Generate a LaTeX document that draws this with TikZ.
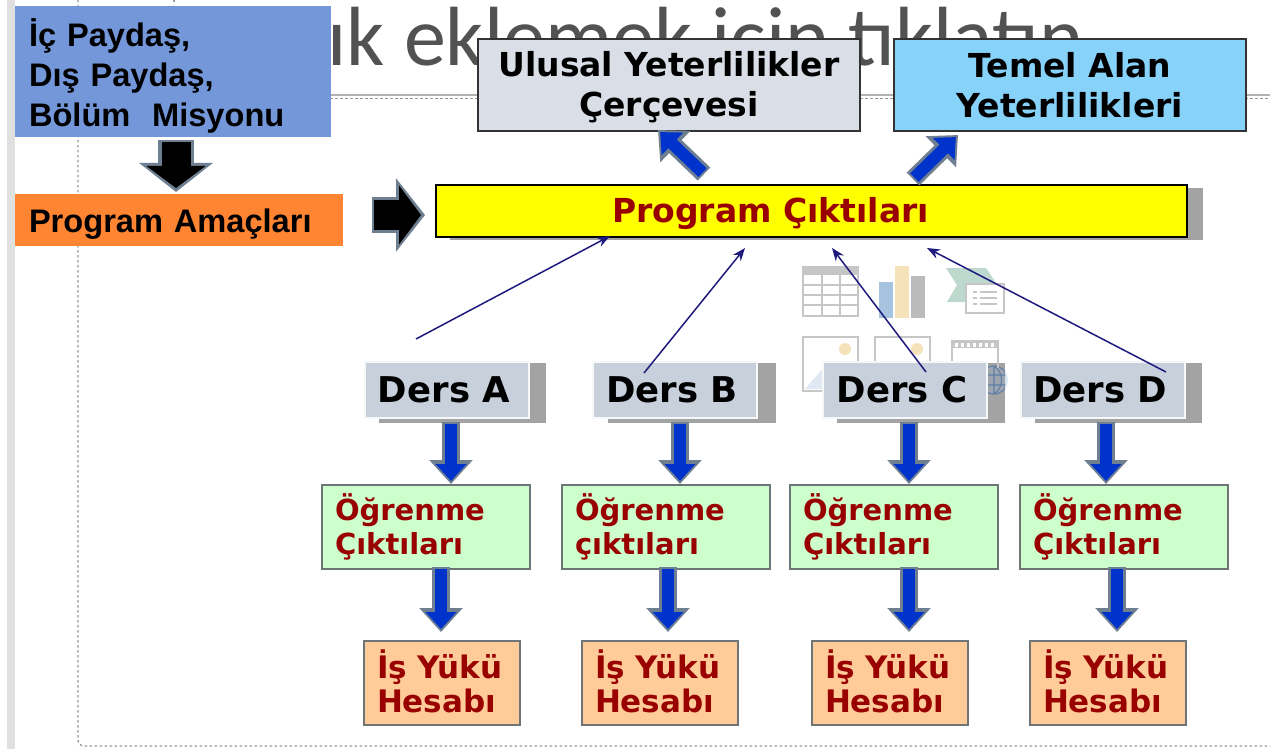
\documentclass[tikz,border=0pt]{standalone}
\usepackage{fontspec}
\setmainfont{DejaVu Sans}
\newfontfamily\arialf{Liberation Sans}
\newfontfamily\titlef{Carlito}
\usetikzlibrary{arrows.meta,calc}
\definecolor{navyln}{HTML}{1F1A7E}
\definecolor{darkredc}{HTML}{990000}
\definecolor{blockrim}{HTML}{6F7F92}
\definecolor{blockblue}{HTML}{0033CC}
\definecolor{iconline}{HTML}{C6C6C6}
\definecolor{shadowc}{HTML}{A3A3A3}
\definecolor{dersfill}{HTML}{C7D0DB}
\definecolor{greenf}{HTML}{CCFFCC}
\definecolor{orangef}{HTML}{FFCC99}
\definecolor{boxrim}{HTML}{6E7577}
\definecolor{icblue}{HTML}{A6C4E0}
\definecolor{ictan}{HTML}{F5E2BA}
\definecolor{icgray}{HTML}{BBBBBB}
\definecolor{icgreen}{HTML}{BDD8CD}
\definecolor{icpale}{HTML}{DFE8F3}
\definecolor{globepale}{HTML}{DCE9F6}
\definecolor{globeshade}{HTML}{9DA5AE}
\definecolor{globeline}{HTML}{5F7FA8}
\definecolor{nqffill}{HTML}{DADFE7}
\definecolor{tayfill}{HTML}{87D2F9}
\definecolor{payfill}{HTML}{7397D9}
\definecolor{amafill}{HTML}{FF8533}
\definecolor{barfill}{HTML}{FFFF00}
\tikzset{
  abox/.style={anchor=north west,inner ysep=0pt,outer sep=0pt},
  thinarrow/.style={draw=navyln,line width=1.5pt,-{Stealth[length=13pt,width=10pt]}},
  rimline/.style={draw=#1,line width=18pt,-{Triangle[length=24pt,width=42pt]}},
  coreline/.style={draw=#1,line width=12pt,shorten >=3pt,shorten <=2pt,-{Triangle[length=17pt,width=30pt]}},
  dashln/.style={draw=gray!80,line width=1.3pt,dash pattern=on 2.5pt off 2.5pt},
  iconb/.style={draw=iconline,line width=1.6pt,fill=white},
  dersbox/.style={abox,fill=dersfill,draw=white!85!dersfill,line width=1.5pt,minimum width=164pt,minimum height=56pt,inner xsep=0pt,font=\fontsize{35.5}{40}\selectfont\bfseries,text=black},
  greenbox/.style={abox,fill=greenf,draw=boxrim,line width=1.6pt,text width=182pt,inner xsep=13pt,minimum height=84pt,align=left,font=\fontsize{29}{34}\selectfont\bfseries,text=darkredc},
  orangebox/.style={abox,fill=orangef,draw=boxrim,line width=1.6pt,text width=130pt,inner xsep=13pt,minimum height=84pt,align=left,font=\fontsize{31}{34}\selectfont\bfseries,text=darkredc},
  topbox/.style={abox,draw=black!80,line width=1.5pt,minimum height=92pt,align=center,inner xsep=0pt,font=\fontsize{33}{40}\selectfont\bfseries,text=black},
  leftbox/.style={abox,inner xsep=14pt,align=left,font=\arialf\fontsize{32.6}{40}\selectfont\bfseries,text=black},
}
\newcommand{\blockarrow}[3]{%
  \draw[rimline=blockrim] (#1) -- (#2);
  \draw[coreline=#3] (#1) -- (#2);
}
\newcommand{\dersname}[1]{#1\hspace{6pt}\mbox{}}
\newcommand{\topup}[1]{\rule{0pt}{#1pt}}
\newcommand{\isyuku}{İş Yükü\\Hesabı\rule[-4pt]{0pt}{1pt}}
\begin{document}
\begin{tikzpicture}[x=1pt,y=-1pt]
\useasboundingbox (0,0) rectangle (1270,749);
\fill[white] (0,0) rectangle (1270,749);
% slide furniture
\fill[black!12] (7,0) rectangle (15,749);
\draw[dashln] (78,0) -- (78,740) arc[start angle=180,end angle=90,radius=6] -- (1270,746);
\draw[dashln] (174,0) -- (174,5);
\draw[black!30,line width=1.5pt] (320,95) -- (1270,95);
\draw[dashln,line width=1pt] (320,99) -- (1270,99);
\node[anchor=base west,inner sep=0pt,text=black!68,font=\titlef\fontsize{84}{84}\selectfont] (title) at (327.5,66) {ık eklemek için tıklatın};
% content placeholder icons
\draw[iconb] (803,267) rectangle (858,316);
\fill[iconline] (803,267) rectangle (858,275);
\draw[iconline,line width=1.2pt] (822,275) -- (822,316) (840,275) -- (840,316)
  (803,285) -- (858,285) (803,295) -- (858,295) (803,305) -- (858,305);
\fill[icblue] (879,282) rectangle (893,318);
\fill[ictan] (895,266) rectangle (909,318);
\fill[icgray] (911,276) rectangle (925,318);
\fill[icgreen] (946,268) -- (986,268) -- (996,283) -- (996,302) -- (947,302) -- (957,285) -- cycle;
\draw[iconb] (966,284) rectangle (1004,313);
\draw[iconline,line width=1.2pt] (973,292) -- (977,292) (980,292) -- (997,292) (973,298) -- (977,298) (980,298) -- (997,298) (973,304) -- (977,304) (980,304) -- (997,304);
\draw[iconb] (803,337) rectangle (858,391);
\fill[ictan] (845,349) circle[radius=6];
\fill[icpale] (805,389) -- (825,366) -- (825,389) -- cycle;
\draw[iconb] (875,337) rectangle (930,391);
\fill[ictan] (917,349) circle[radius=6];
\draw[iconb] (952,341) rectangle (998,385);
\fill[iconline] (952,341) rectangle (998,348);
\foreach \xx in {956,962,...,994} {\fill[white] (\xx-1.5,343) rectangle (\xx+1.5,346.5);}
% shadows of the courses and output bar
\fill[shadowc] (450,188) rectangle (1203,240);
\fill[shadowc] (379,363) rectangle (546,423);
\fill[shadowc] (608,363) rectangle (776,423);
\fill[shadowc] (837,363) rectangle (1005,423);
\fill[shadowc] (1035,363) rectangle (1202,423);
% globe over the shadow
\fill[globepale] (994,380) circle[radius=14];
\begin{scope}
\clip (987,363) rectangle (1005,423);
\fill[globeshade] (994,380) circle[radius=14];
\draw[globeline,line width=1.1pt] (994,380) circle[radius=14] (980,375) -- (1008,375) (980,385) -- (1008,385) (994,366) -- (994,394) (994,366) .. controls (1004,372) and (1004,388) .. (994,394);
\end{scope}
\draw[iconline,line width=1.6pt] (998,348) -- (998,368);
% top boxes
\node[topbox,fill=nqffill,minimum width=382pt] (nqf) at (478,39) {\topup{29}Ulusal Yeterlilikler\\Çerçevesi};
\node[topbox,fill=tayfill,minimum width=352pt] (tay) at (894,39) {Temel Alan\\Yeterlilikleri};
% left boxes
\node[leftbox,fill=payfill,minimum height=131pt,text width=288pt] (pay) at (15,6) {\topup{36}İç Paydaş,\\Dış Paydaş,\\Bölüm\ \ Misyonu};
\node[leftbox,fill=amafill,minimum height=52pt,text width=300pt] (ama) at (15,194) {\topup{32}Program Amaçları};
% bar
\node[abox,fill=barfill,draw=black,line width=1.6pt,minimum width=751pt,minimum height=52pt,inner xsep=0pt,font=\fontsize{33}{34}\selectfont\bfseries,text=darkredc] (cikti) at (436,185) {\topup{30}Program Çıktıları\hspace{82pt}\mbox{}};
% courses
\node[dersbox] (da) at (365,362) {\dersname{Ders A}};
\node[dersbox] (db) at (593,362) {\dersname{Ders B}};
\node[dersbox] (dc) at (823,362) {\dersname{Ders C}};
\node[dersbox] (dd) at (1021,362) {\dersname{Ders D}};
% learning outcomes
\node[greenbox] (oa) at (322,485) {Öğrenme\\Çıktıları};
\node[greenbox] (ob) at (562,485) {Öğrenme\\çıktıları};
\node[greenbox] (oc) at (790,485) {Öğrenme\\Çıktıları};
\node[greenbox] (od) at (1020,485) {Öğrenme\\Çıktıları};
% workload
\node[orangebox] (ia) at (364,641) {\isyuku};
\node[orangebox] (ib) at (582,641) {\isyuku};
\node[orangebox] (ic) at (812,641) {\isyuku};
\node[orangebox] (id) at (1030,641) {\isyuku};
% block arrow end points, measured along each box edge
\coordinate (a1s) at (451,422); \coordinate (a1e) at (451,484);
\coordinate (b1s) at (680,422); \coordinate (b1e) at (680,484);
\coordinate (c1s) at (909,422); \coordinate (c1e) at (909,484);
\coordinate (d1s) at (1106,422); \coordinate (d1e) at (1106,484);
\coordinate (a2s) at (441,567); \coordinate (a2e) at (441,632);
\coordinate (b2s) at (668,567); \coordinate (b2e) at (668,632);
\coordinate (c2s) at (909,567); \coordinate (c2e) at (909,632);
\coordinate (d2s) at (1117,567); \coordinate (d2e) at (1117,632);
\blockarrow{a1s}{a1e}{blockblue}
\blockarrow{b1s}{b1e}{blockblue}
\blockarrow{c1s}{c1e}{blockblue}
\blockarrow{d1s}{d1e}{blockblue}
\blockarrow{a2s}{a2e}{blockblue}
\blockarrow{b2s}{b2e}{blockblue}
\blockarrow{c2s}{c2e}{blockblue}
\blockarrow{d2s}{d2e}{blockblue}
% diagonal block arrows (tips run just under the top boxes)
\coordinate (u1s) at (704,174); \coordinate (u1e) at (658,130);
\coordinate (u2s) at (913,179); \coordinate (u2e) at (958,135);
\blockarrow{u1s}{u1e}{blockblue}
\blockarrow{u2s}{u2e}{blockblue}
% black arrows
\coordinate (k1s) at (176,140); \coordinate (k1e) at (176,192);
\coordinate (k2s) at (372,215); \coordinate (k2e) at (425,215);
\draw[draw=blockrim,line width=36pt,-{Triangle[length=29pt,width=72pt]}] (k1s) -- (k1e);
\draw[draw=black,line width=29pt,shorten >=4pt,shorten <=2pt,-{Triangle[length=22pt,width=58pt]}] (k1s) -- (k1e);
\draw[draw=blockrim,line width=36pt,-{Triangle[length=29pt,width=72pt]}] (k2s) -- (k2e);
\draw[draw=black,line width=29pt,shorten >=4pt,shorten <=2pt,-{Triangle[length=22pt,width=58pt]}] (k2s) -- (k2e);
% thin arrows to the bar
\coordinate (t1) at (416,339);
\coordinate (t2) at (644,373);
\coordinate (t3) at (926,372);
\coordinate (t4) at (1166,372);
\coordinate (h1) at (610,236);
\coordinate (h2) at (745,248);
\coordinate (h3) at (832,248);
\coordinate (h4) at (927,248);
\draw[thinarrow] (t1) -- (h1);
\draw[thinarrow] (t2) -- (h2);
\draw[thinarrow] (t3) -- (h3);
\draw[thinarrow] (t4) -- (h4);
\end{tikzpicture}
\end{document}
